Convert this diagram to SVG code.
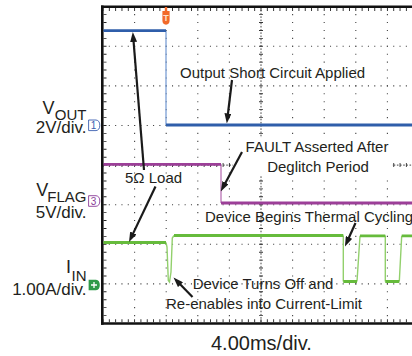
<svg xmlns="http://www.w3.org/2000/svg" width="412" height="356" viewBox="0 0 412 356">
<style>
.t{font-family:"Liberation Sans",Arial,sans-serif;fill:#231f20}
.lab{font-size:17px}
.big{font-size:18px}
.sub{font-size:15px}
.ann{font-size:15px}
.dv{stroke:#444;stroke-width:1.1;stroke-dasharray:1.1 6.82;stroke-dashoffset:0.55}
.dh{stroke:#444;stroke-width:1.1;stroke-dasharray:1.1 5.22;stroke-dashoffset:0.55}
.arr{stroke:#1a1a1a;stroke-width:2.2;fill:none;marker-end:url(#ah)}
</style>
<defs>
<marker id="ah" viewBox="0 0 10 7" refX="4" refY="3.5" markerWidth="10" markerHeight="7" markerUnits="userSpaceOnUse" orient="auto">
<path d="M0,0 L10,3.5 L0,7 Z" fill="#1a1a1a"/>
</marker>
</defs>
<rect width="412" height="356" fill="#ffffff"/>

<g id="grid">
<line class="dv" x1="134.6" y1="6.7" x2="134.6" y2="323.5"/>
<line class="dv" x1="166.2" y1="6.7" x2="166.2" y2="323.5"/>
<line class="dv" x1="197.8" y1="6.7" x2="197.8" y2="323.5"/>
<line class="dv" x1="229.4" y1="6.7" x2="229.4" y2="323.5"/>
<line class="dv" x1="292.6" y1="6.7" x2="292.6" y2="323.5"/>
<line class="dv" x1="324.2" y1="6.7" x2="324.2" y2="323.5"/>
<line class="dv" x1="355.8" y1="6.7" x2="355.8" y2="323.5"/>
<line class="dv" x1="387.4" y1="6.7" x2="387.4" y2="323.5"/>
<line class="dh" x1="103" y1="46.3" x2="412" y2="46.3"/>
<line class="dh" x1="103" y1="85.9" x2="412" y2="85.9"/>
<line class="dh" x1="103" y1="125.5" x2="412" y2="125.5"/>
<line class="dh" x1="103" y1="204.7" x2="412" y2="204.7"/>
<line class="dh" x1="103" y1="244.3" x2="412" y2="244.3"/>
<line class="dh" x1="103" y1="283.9" x2="412" y2="283.9"/>
<line x1="261" y1="6.7" x2="261" y2="323.5" stroke="#444" stroke-width="1" stroke-dasharray="1.6 1.6"/>
<line x1="261" y1="6.7" x2="261" y2="323.5" stroke="#333" stroke-width="4" stroke-dasharray="0.9 7.02" stroke-dashoffset="0.45"/>
<line x1="103" y1="165.1" x2="412" y2="165.1" stroke="#444" stroke-width="1" stroke-dasharray="1.6 1.56"/>
<line x1="103" y1="165.1" x2="412" y2="165.1" stroke="#333" stroke-width="4" stroke-dasharray="0.9 5.42" stroke-dashoffset="0.45"/>
<rect x="233" y="137.5" width="159" height="37.5" fill="#ffffff"/>
</g>

<g id="frame">
<line x1="102.3" y1="5.4" x2="102.3" y2="324.8" stroke="#111" stroke-width="2.6"/>
<line x1="101" y1="6.7" x2="412" y2="6.7" stroke="#111" stroke-width="2.6"/>
<line x1="101" y1="323.5" x2="412" y2="323.5" stroke="#111" stroke-width="2.6"/>
<line x1="103" y1="9.5" x2="412" y2="9.5" stroke="#222" stroke-width="3" stroke-dasharray="0.9 5.42" stroke-dashoffset="0.45"/>
<line x1="103" y1="320.7" x2="412" y2="320.7" stroke="#222" stroke-width="3" stroke-dasharray="0.9 5.42" stroke-dashoffset="0.45"/>
<line x1="105" y1="6.7" x2="105" y2="323.5" stroke="#222" stroke-width="3" stroke-dasharray="0.9 7.02" stroke-dashoffset="0.45"/>
</g>

<g id="traces">
<g id="vout-trace">
<line x1="166" y1="30.7" x2="166" y2="125" stroke="#7b9fd6" stroke-width="1.3"/>
<polyline points="103.5,30.7 166,30.7" fill="none" stroke="#2f5eaa" stroke-width="2.8"/>
<polyline points="166,125 412,125" fill="none" stroke="#2f5eaa" stroke-width="3"/>
</g>
<g id="vflag-trace">
<line x1="221" y1="164.4" x2="221" y2="203" stroke="#b872b4" stroke-width="1.3"/>
<polyline points="103.5,164.4 221,164.4" fill="none" stroke="#9c3f98" stroke-width="2.8"/>
<polyline points="221,203 412,203" fill="none" stroke="#9c3f98" stroke-width="2.8"/>
</g>
<g id="iin-trace">
<path d="M166,242.5 L167,247 L168.3,280.5 L169.5,282 L171,272 L172.3,238 L174,235.5 M343.3,235.5 V281.5 M357,281.5 L360,235.8 M385.3,235.5 V281.5 M399.3,281.5 L401.7,235.8" fill="none" stroke="#92d06c" stroke-width="1.4"/>
<path d="M103.5,242.5 H166 M174,235.5 H343.3 M343.3,281.5 H357 M360,235.8 H385.3 M385.3,281.5 H399.3 M401.7,235.8 H412" fill="none" stroke="#66bb3c" stroke-width="2.8"/>
</g>
</g>

<g id="trigger-marker">
<path d="M164.8,7 H167.2 V11 H169.6 V20.5 Q169.6,24.3 166,24.8 Q162.4,24.3 162.4,20.5 V11 H164.8 Z" fill="#f26a2a"/>
<text class="t" x="166" y="20.5" font-size="9" font-weight="bold" text-anchor="middle" style="fill:#fde3cf">T</text>
</g>

<g id="ch1-marker">
<path d="M88.6,120 H96 Q99.8,120.5 99.8,125.3 Q99.8,130.1 96,130.6 H88.6 Z" fill="#ffffff" stroke="#3a5fb0" stroke-width="0.9"/>
<text class="t" x="93.5" y="129" font-size="10" text-anchor="middle" style="fill:#3a5fb0">1</text>
</g>
<g id="ch3-marker">
<path d="M88.6,195.7 H96 Q99.8,196.2 99.8,201 Q99.8,205.8 96,206.3 H88.6 Z" fill="#ffffff" stroke="#8b3c98" stroke-width="0.9"/>
<text class="t" x="93.5" y="204.7" font-size="10" text-anchor="middle" style="fill:#8b3c98">3</text>
</g>
<g id="ch4-marker">
<path d="M88.6,279.7 H96 Q99.8,280.2 99.8,285 Q99.8,289.8 96,290.3 H88.6 Z" fill="#2e9a48"/>
<path d="M91,285 H97 M94,282 V288" stroke="#ffffff" stroke-width="1.3"/>
</g>

<g id="axis-labels">
<g id="vout-label">
<text class="t big" x="54.6" y="114" text-anchor="end">V</text>
<text class="t sub" x="86.5" y="119.5" text-anchor="end">OUT</text>
<text class="t lab" x="86.5" y="133.3" text-anchor="end">2V/div.</text>
</g>
<g id="vflag-label">
<text class="t big" x="48.2" y="195.7" text-anchor="end">V</text>
<text class="t sub" x="86.5" y="201.7" text-anchor="end" font-size="14.5">FLAG</text>
<text class="t lab" x="86.5" y="217.7" text-anchor="end">5V/div.</text>
</g>
<g id="iin-label">
<text class="t big" x="71" y="273.3" text-anchor="end">I</text>
<text class="t sub" x="86.5" y="281" text-anchor="end">IN</text>
<text class="t lab" x="86.5" y="295" text-anchor="end">1.00A/div.</text>
</g>
<text id="time-label" class="t" x="211" y="349.5" font-size="20">4.00ms/div.</text>
</g>

<g id="annotations">
<text id="ann-short" class="t ann" x="180" y="77.5">Output Short Circuit Applied</text>
<g id="ann-fault">
<text class="t ann" x="317" y="152.3" text-anchor="middle">FAULT Asserted After</text>
<text class="t ann" x="318" y="171.5" text-anchor="middle">Deglitch Period</text>
</g>
<text id="ann-load" class="t ann" x="125" y="183.3">5Ω Load</text>
<text id="ann-thermal" class="t ann" x="205" y="221.5" font-size="14.8">Device Begins Thermal Cycling</text>
<g id="ann-turnoff">
<text class="t ann" x="192.7" y="288.5">Device Turns Off and</text>
<text class="t ann" x="166" y="308.5">Re-enables into Current-Limit</text>
</g>
</g>

<g id="connectors">
<line class="arr" x1="144" y1="170" x2="133.3" y2="38"/>
<line class="arr" x1="155.5" y1="186.5" x2="131.6" y2="236.6"/>
<line class="arr" x1="232" y1="80" x2="227.5" y2="117.5"/>
<line class="arr" x1="242" y1="152" x2="223.6" y2="186.2"/>
<line class="arr" x1="355.5" y1="223" x2="347.4" y2="241"/>
<line class="arr" x1="192.5" y1="297" x2="177.7" y2="281.8"/>
</g>
</svg>
